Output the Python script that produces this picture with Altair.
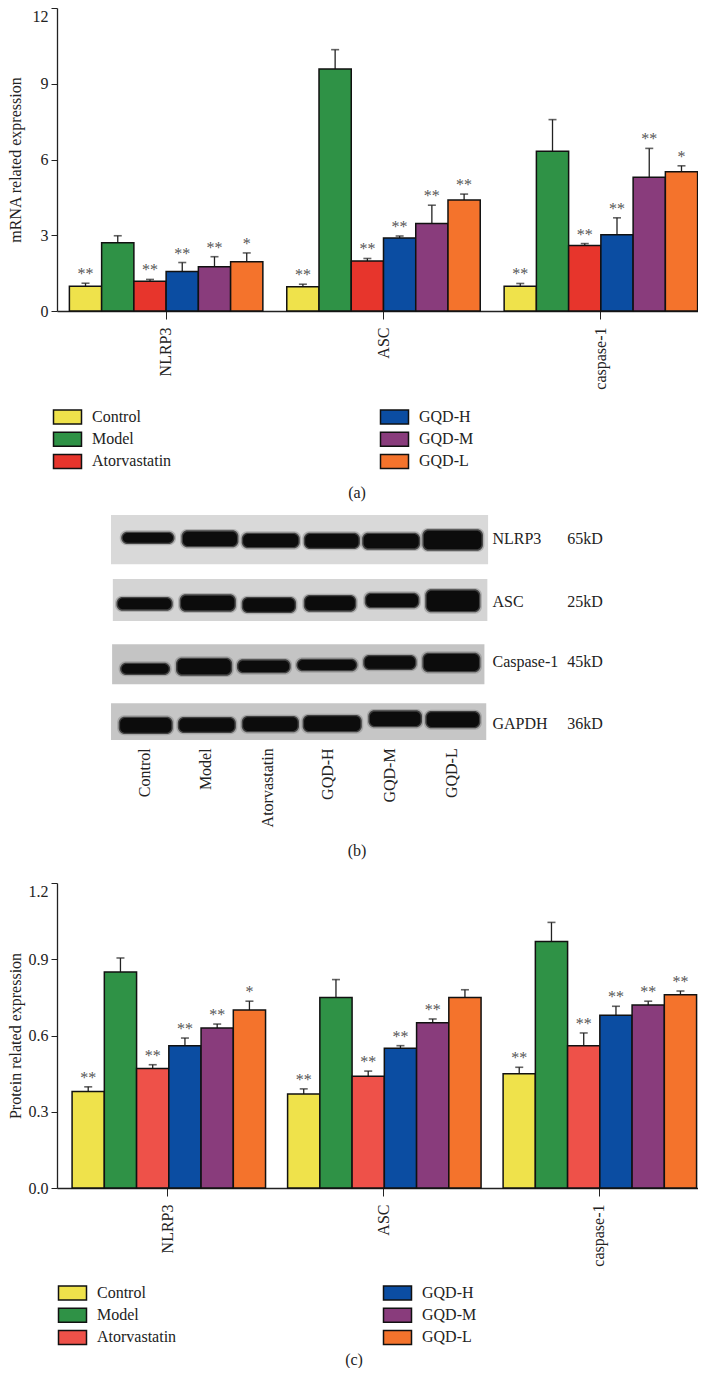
import altair as alt
import pandas as pd

SERIF = "Liberation Serif"
genes = ["NLRP3", "ASC", "caspase-1"]
groups = ["Control", "Model", "Atorvastatin", "GQD-H", "GQD-M", "GQD-L"]

colors_a = ["#EFE24B", "#2F9246", "#E7352C", "#0B4DA2", "#893C7C", "#F4732C"]
colors_c = ["#EFE24B", "#2F9246", "#EE5149", "#0B4DA2", "#893C7C", "#F4732C"]

mrna_nlrp3 = [0.98, 2.70, 1.18, 1.56, 1.75, 1.95]
mrna_nlrp3_err = [1.10, 2.98, 1.25, 1.92, 2.15, 2.30]
mrna_asc = [0.96, 9.58, 1.98, 2.89, 3.47, 4.40]
mrna_asc_err = [1.06, 10.35, 2.08, 2.97, 4.19, 4.63]
mrna_casp = [0.98, 6.33, 2.59, 3.02, 5.30, 5.51]
mrna_casp_err = [1.09, 7.58, 2.67, 3.69, 6.44, 5.75]
mrna_stars = [["**", "", "**", "**", "**", "*"],
              ["**", "", "**", "**", "**", "**"],
              ["**", "", "**", "**", "**", "*"]]

prot_nlrp3 = [0.38, 0.85, 0.47, 0.56, 0.63, 0.70]
prot_nlrp3_err = [0.398, 0.905, 0.485, 0.59, 0.645, 0.735]
prot_asc = [0.37, 0.75, 0.44, 0.55, 0.65, 0.75]
prot_asc_err = [0.39, 0.82, 0.46, 0.56, 0.665, 0.78]
prot_casp = [0.45, 0.97, 0.56, 0.68, 0.72, 0.76]
prot_casp_err = [0.475, 1.045, 0.61, 0.715, 0.735, 0.775]
prot_stars = [["**", "", "**", "**", "**", "*"],
              ["**", "", "**", "**", "**", ""],
              ["**", "", "**", "**", "**", "**"]]

# blot geometry, in blot image units
memb_x0 = [55, 60, 58, 55]
memb_x1 = [1088, 1086, 1078, 1083]
memb_y0 = [30, 222, 418, 595]
memb_y1 = [178, 348, 538, 705]
memb_col = ["#d9d9d9", "#d4d4d4", "#c4c4c4", "#c6c6c6"]
band_x0 = [[85, 250, 415, 585, 745, 910], [72, 245, 415, 585, 752, 918],
           [82, 235, 402, 565, 748, 910], [78, 240, 415, 582, 762, 918]]
band_x1 = [[227, 402, 570, 735, 900, 1072], [222, 395, 560, 725, 898, 1065],
           [215, 385, 545, 728, 890, 1065], [222, 395, 568, 740, 905, 1065]]
band_y0 = [[82, 78, 85, 85, 85, 75], [278, 270, 278, 272, 265, 255],
           [475, 460, 465, 463, 452, 445], [637, 638, 635, 632, 618, 620]]
band_y1 = [[115, 125, 128, 130, 132, 135], [315, 318, 322, 318, 308, 320],
           [508, 510, 503, 497, 493, 500], [685, 682, 680, 680, 665, 668]]
row_names = ["NLRP3", "ASC", "Caspase-1", "GAPDH"]
row_kd = ["65kD", "25kD", "45kD", "36kD"]
row_y = [103, 290, 472, 658]
lane_x = [148, 316, 485, 650, 820, 988]


def table(vals, errs, stars):
    rows = []
    for gi, g in enumerate(genes):
        for k, name in enumerate(groups):
            rows.append({"gene": g, "group": name, "value": vals[gi][k],
                         "err": errs[gi][k], "star": stars[gi][k]})
    return pd.DataFrame(rows)


W = 653


def panel(df, colors, ymax, ticks, fmt, ytitle, height, outer, legx, legy, colpad, caption, capx, capy):
    x = alt.X("gene:N", sort=genes, title=None,
              scale=alt.Scale(paddingInner=0.11, paddingOuter=outer),
              axis=alt.Axis(labelAngle=270, labelFont=SERIF, labelFontSize=16, labelColor="#222",
                            tickSize=8, tickColor="#222", domainColor="#222", domainWidth=1.3,
                            labelPadding=8, labelOverlap=False, grid=False))
    xo = alt.XOffset("group:N", sort=groups, scale=alt.Scale(domain=groups, paddingInner=0, paddingOuter=0))
    y = alt.Y("value:Q", title=ytitle, scale=alt.Scale(domain=[0, ymax], nice=False),
              axis=alt.Axis(values=ticks, format=fmt, labelFont=SERIF, labelFontSize=16, labelColor="#222",
                            tickSize=6, tickColor="#222", domainColor="#222", domainWidth=1.3,
                            labelPadding=3, grid=False, titleFont=SERIF, titleFontSize=16,
                            titleFontWeight="normal", titleColor="#222", titleX=-34, titleAngle=270,
                            labelBaseline=alt.expr("datum.value == %s ? 'top' : 'middle'" % ymax)))
    legend = alt.Legend(title=None, orient="none", legendX=legx, legendY=legy, columns=2,
                        symbolType="M-2,-1H2V1H-2Z", symbolSize=196, symbolStrokeColor="#111",
                        symbolStrokeWidth=1.5, labelFont=SERIF, labelFontSize=16, labelColor="#222",
                        labelOffset=16.5, columnPadding=colpad, rowPadding=2.2, symbolOpacity=1)
    base = alt.Chart(df)
    bars = base.mark_bar(stroke="#111", strokeWidth=1.5).encode(
        x=x, xOffset=xo, y=y,
        fill=alt.Fill("group:N", sort=groups, scale=alt.Scale(domain=groups, range=colors), legend=legend))
    rule = base.mark_rule(color="#222", strokeWidth=1.3).encode(
        x=alt.X("gene:N", sort=genes), xOffset=xo, y="value:Q", y2="err:Q")
    cap = base.mark_tick(color="#222", thickness=1.6, size=8, orient="horizontal").encode(
        x=alt.X("gene:N", sort=genes), xOffset=xo, y=alt.Y("err:Q"))
    stars = base.mark_text(font=SERIF, fontSize=16, color="#555", dy=-9, baseline="middle").encode(
        x=alt.X("gene:N", sort=genes), xOffset=xo, y=alt.Y("err:Q"), text="star:N")
    capt = alt.Chart(pd.DataFrame({"t": [caption]})).mark_text(
        font=SERIF, fontSize=16, color="#222").encode(
        x=alt.value(capx), y=alt.value(capy), text="t:N")
    return alt.layer(cap, rule, bars, stars, capt).properties(width=W, height=height)


df_a = table([mrna_nlrp3, mrna_asc, mrna_casp], [mrna_nlrp3_err, mrna_asc_err, mrna_casp_err], mrna_stars)
df_c = table([prot_nlrp3, prot_asc, prot_casp], [prot_nlrp3_err, prot_asc_err, prot_casp_err], prot_stars)

a = panel(df_a, colors_a, 12, [0, 3, 6, 9, 12], "d", "mRNA related expression", 303, 0.057,
          2.5, 401, 206, "(a)", 300, 485)
c = panel(df_c, colors_c, 1.2, [0, 0.3, 0.6, 0.9, 1.2], ".1f", "Protein related expression", 305, 0.07,
          7.5, 402, 204, "(c)", 297, 477)

# ---- western blot panel
mem = pd.DataFrame({"x0": memb_x0, "x1": memb_x1, "y0": memb_y0, "y1": memb_y1, "col": memb_col})
bscale_x = alt.Scale(domain=[-93, 1696], nice=False, zero=False)
bscale_y = alt.Scale(domain=[1020, -468], nice=False, zero=False)
m_layer = alt.Chart(mem).mark_rect().encode(
    x=alt.X("x0:Q", axis=None, scale=bscale_x), x2="x1:Q",
    y=alt.Y("y0:Q", axis=None, scale=bscale_y), y2="y1:Q",
    fill=alt.Fill("col:N", scale=None))


def band_layer(grow, color, opacity, radius):
    bands = pd.DataFrame([
        {"xa": band_x0[r][l] - grow, "xb": band_x1[r][l] + grow,
         "ya": band_y0[r][l] - grow, "yb": band_y1[r][l] + grow}
        for r in range(4) for l in range(6)])
    return alt.Chart(bands).mark_rect(color=color, opacity=opacity, cornerRadius=radius).encode(
        x=alt.X("xa:Q", axis=None, scale=bscale_x), x2="xb:Q",
        y=alt.Y("ya:Q", axis=None, scale=bscale_y), y2="yb:Q")


lab_df = pd.DataFrame({"x": [1100] * 4, "y": row_y, "t": row_names})
kd_df = pd.DataFrame({"x": [1305] * 4, "y": row_y, "t": row_kd})
lane_df = pd.DataFrame({"x": lane_x, "y": [730] * 6, "t": groups})
tx = alt.X("x:Q", axis=None, scale=bscale_x)
ty = alt.Y("y:Q", axis=None, scale=bscale_y)
t1 = alt.Chart(lab_df).mark_text(font=SERIF, fontSize=16, color="#222", align="left").encode(x=tx, y=ty, text="t:N")
t2 = alt.Chart(kd_df).mark_text(font=SERIF, fontSize=16, color="#222", align="left").encode(x=tx, y=ty, text="t:N")
t3 = alt.Chart(lane_df).mark_text(font=SERIF, fontSize=16, color="#222", align="right", angle=270,
                                  baseline="middle").encode(x=tx, y=ty, text="t:N")
cap_b = alt.Chart(pd.DataFrame({"t": ["(b)"]})).mark_text(font=SERIF, fontSize=16, color="#222").encode(
    x=alt.value(300), y=alt.value(502), text="t:N")
b = alt.layer(m_layer, band_layer(6, "#666666", 0.35, 7), band_layer(2, "#151515", 0.7, 6),
              band_layer(-2, "#0c0c0c", 1, 5), t1, t2, t3, cap_b).properties(width=W, height=496)

chart = alt.vconcat(a, b, c, spacing=38, bounds="flush").properties(
    padding={"top": -1, "left": -1, "right": -12, "bottom": 0}).resolve_scale(
    x="independent", y="independent", fill="independent").resolve_legend(fill="independent")
chart = chart.configure_view(stroke=None)
chart.save("out.html", embed_options={"renderer": "svg", "actions": False})
